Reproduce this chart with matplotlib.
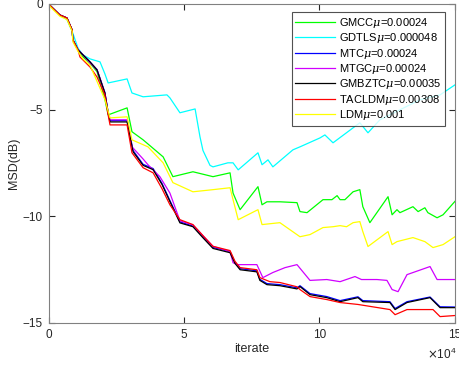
import numpy as np
import matplotlib
matplotlib.use('Agg')
import matplotlib.pyplot as plt

plt.rcParams['font.family'] = ['Liberation Sans', 'DejaVu Sans']
plt.rcParams['mathtext.fontset'] = 'custom'
plt.rcParams['mathtext.it'] = 'DejaVu Serif:italic'

# Iteration (x 10^4) / MSD (dB) Werte
x_gmcc = [0, 0.06, 0.42, 0.68, 0.87, 0.9, 1.09, 1.27, 1.53, 1.79, 2.08, 2.2, 2.9, 3.08, 3.49,
          4.23, 4.59, 5.33, 6.07, 6.7, 6.81, 7.07, 7.73, 7.88, 8.06, 8.54, 9.17, 9.28, 9.54,
          10.13, 10.46, 10.65, 10.76, 10.94, 11.24, 11.49, 11.6, 11.86, 12.53, 12.68, 12.86,
          12.97, 13.45, 13.64, 13.89, 14.0, 14.34, 14.56, 15]
y_gmcc = [0, -0.1, -0.54, -0.68, -1.24, -1.71, -2.18, -2.5, -2.8, -3.2, -4.5, -5.23, -4.9, -6.02,
          -6.4, -7.2, -8.13, -7.9, -8.13, -7.95, -8.9, -9.68, -8.6, -9.45, -9.31, -9.31, -9.35,
          -9.77, -9.82, -9.21, -9.21, -9.02, -9.21, -9.21, -8.84, -8.74, -9.54, -10.29, -9.07,
          -9.92, -9.68, -9.82, -9.54, -9.77, -9.59, -9.82, -10.06, -9.92, -9.29]

x_gdtls = [0, 0.06, 0.42, 0.68, 0.87, 1.09, 1.27, 1.53, 1.9, 2.08, 2.2, 2.9, 3.08, 3.49, 4.37,
           4.48, 4.85, 5.41, 5.59, 5.7, 5.96, 6.07, 6.62, 6.81, 7.0, 7.73, 7.88, 8.1, 8.28, 9.02,
           9.28, 10.02, 10.2, 10.5, 11.49, 11.79, 12.23, 12.97, 13.71, 14.45, 15]
y_gdtls = [0, -0.1, -0.54, -0.75, -1.3, -2.1, -2.41, -2.6, -2.74, -3.3, -3.73, -3.54, -4.2, -4.38,
           -4.29, -4.43, -5.13, -4.95, -6.26, -6.9, -7.6, -7.67, -7.48, -7.48, -7.81, -7.01, -7.57,
           -7.34, -7.67, -6.87, -6.73, -6.31, -6.17, -6.54, -5.6, -6.07, -5.46, -4.99, -4.52,
           -4.29, -3.82]

x_mtc = [0, 0.06, 0.42, 0.68, 0.87, 0.9, 1.09, 1.27, 1.53, 1.79, 2.08, 2.2, 2.27, 2.9, 3.12,
         3.49, 3.86, 4.19, 4.48, 4.85, 5.33, 5.7, 6.07, 6.7, 6.88, 7.07, 7.69, 7.8, 8.06, 8.54,
         9.17, 9.28, 9.65, 10.27, 10.76, 11.42, 11.6, 12.6, 12.79, 13.23, 14.08, 14.45, 15]
y_mtc = [0, -0.1, -0.54, -0.68, -1.24, -1.71, -2.18, -2.41, -2.74, -3.1, -4.18, -5.1, -5.5, -5.5,
         -6.9, -7.55, -7.75, -8.45, -9.25, -10.25, -10.45, -10.95, -11.45, -11.65, -12.15, -12.45,
         -12.55, -12.95, -13.15, -13.2, -13.35, -13.25, -13.62, -13.76, -13.95, -13.77, -13.95,
         -14.0, -14.32, -14.0, -13.78, -14.24, -14.25]

x_mtgc = [0, 0.06, 0.42, 0.68, 0.87, 0.9, 1.09, 1.27, 1.53, 1.79, 2.08, 2.2, 2.27, 2.9, 3.08,
          3.49, 3.67, 4.11, 4.48, 4.85, 5.33, 5.7, 6.07, 6.7, 6.81, 6.96, 7.69, 7.91, 8.28, 8.73,
          9.17, 9.65, 10.27, 10.76, 11.31, 11.55, 12.12, 12.49, 12.68, 12.9, 13.23, 14.08,
          14.34, 15]
y_mtgc = [0, -0.1, -0.54, -0.68, -1.24, -1.71, -2.18, -2.41, -2.79, -3.12, -4.2, -5.13, -5.46,
          -5.46, -6.73, -7.3, -7.57, -8.13, -8.9, -10.2, -10.4, -10.9, -11.4, -11.65, -12.17,
          -12.26, -12.26, -12.87, -12.63, -12.4, -12.26, -13.0, -12.96, -13.06, -12.82, -12.96,
          -12.96, -13.0, -13.43, -13.53, -12.73, -12.35, -12.96, -12.96]

x_gmbztc = [0, 0.06, 0.42, 0.68, 0.87, 0.9, 1.09, 1.27, 1.53, 1.79, 2.08, 2.2, 2.27, 2.9, 3.12,
            3.49, 3.86, 4.19, 4.48, 4.85, 5.33, 5.7, 6.07, 6.7, 6.88, 7.07, 7.69, 7.8, 8.06, 8.54,
            9.17, 9.28, 9.65, 10.27, 10.76, 11.42, 11.6, 12.6, 12.79, 13.23, 14.08, 14.45, 15]
y_gmbztc = [0, -0.1, -0.54, -0.68, -1.24, -1.71, -2.18, -2.41, -2.74, -3.12, -4.2, -5.13, -5.56,
            -5.56, -6.96, -7.6, -7.8, -8.5, -9.3, -10.3, -10.48, -11.0, -11.5, -11.7, -12.2, -12.5,
            -12.6, -13.0, -13.2, -13.25, -13.4, -13.29, -13.67, -13.81, -14.0, -13.81, -14.0,
            -14.04, -14.37, -14.04, -13.81, -14.28, -14.28]

x_tacldm = [0, 0.06, 0.42, 0.68, 0.87, 0.9, 1.09, 1.16, 1.53, 1.79, 2.08, 2.2, 2.27, 2.9, 3.08,
            3.49, 3.86, 4.19, 4.48, 4.85, 5.33, 5.7, 6.07, 6.7, 6.88, 7.07, 7.69, 7.8, 8.17, 8.54,
            9.17, 9.28, 9.65, 10.27, 10.76, 11.42, 12.6, 12.79, 13.23, 14.19, 14.45, 15]
y_tacldm = [0, -0.1, -0.54, -0.68, -1.24, -1.71, -2.18, -2.51, -2.98, -3.45, -4.3, -5.23, -5.7,
            -5.7, -7.01, -7.71, -7.95, -8.7, -9.45, -10.15, -10.38, -10.9, -11.4, -11.6, -12.1,
            -12.4, -12.5, -12.87, -13.06, -13.1, -13.3, -13.43, -13.76, -13.9, -14.04, -14.13,
            -14.37, -14.61, -14.37, -14.37, -14.7, -14.65]

x_ldm = [0, 0.06, 0.42, 0.68, 0.87, 0.9, 1.09, 1.27, 1.53, 2.08, 2.27, 2.9, 3.08, 3.67, 4.23,
         4.59, 5.33, 6.07, 6.7, 6.81, 7.0, 7.73, 7.88, 8.54, 9.28, 9.65, 10.13, 10.5, 10.76,
         11.0, 11.24, 11.49, 11.6, 11.79, 12.53, 12.68, 12.86, 13.45, 13.89, 14.19, 14.56, 15]
y_ldm = [0, -0.15, -0.6, -0.75, -1.3, -1.8, -2.25, -2.6, -2.9, -4.5, -5.37, -5.32, -6.4, -6.73,
         -7.48, -8.41, -8.84, -8.74, -8.65, -9.21, -10.15, -9.68, -10.38, -10.29, -10.95, -10.85,
         -10.52, -10.48, -10.43, -10.48, -10.29, -10.24, -10.71, -11.41, -10.71, -11.32, -11.18,
         -10.99, -11.18, -11.46, -11.32, -10.95]

# Plot vorbereiten
fig = plt.figure(figsize=(4.59, 3.69), dpi=100)
ax = fig.add_axes([0.1057, 0.1247, 0.8855, 0.8658])

lw = 0.9
ax.plot(x_gmcc, y_gmcc, color='#00ff00', lw=lw, label=r'GMCC$\mu$=0.00024')
ax.plot(x_gdtls, y_gdtls, color='#00ffff', lw=lw, label=r'GDTLS$\mu$=0.000048')
ax.plot(x_mtc, y_mtc, color='#0000ff', lw=lw, label=r'MTC$\mu$=0.00024')
ax.plot(x_mtgc, y_mtgc, color='#d000ff', lw=lw, label=r'MTGC$\mu$=0.00024')
ax.plot(x_gmbztc, y_gmbztc, color='black', lw=lw, label=r'GMBZTC$\mu$=0.00035')
ax.plot(x_tacldm, y_tacldm, color='#ff0000', lw=lw, label=r'TACLDM$\mu$=0.00308')
ax.plot(x_ldm, y_ldm, color='#ffff00', lw=lw, label=r'LDM$\mu$=0.001')

ax.set_xlim(0, 15)
ax.set_ylim(-15, 0)
ax.set_xticks([0, 5, 10, 15])
ax.set_yticks([-15, -10, -5, 0])
ax.tick_params(direction='in', top=True, right=True, length=4, labelsize=8.5,
               colors='#262626', pad=4)
for s in ax.spines.values():
    s.set_color('#808080')
    s.set_linewidth(0.8)

ax.set_xlabel('iterate', fontsize=9, color='#262626', labelpad=2)
ax.set_ylabel('MSD(dB)', fontsize=9, color='#262626', labelpad=2)
fig.text(0.995, 0.02, r'$\times\mathregular{10^4}$', ha='right', va='bottom', fontsize=8.5,
         color='#262626')

leg = ax.legend(loc='upper right', bbox_to_anchor=(445 / 459, 1 - 12 / 369),
                bbox_transform=fig.transFigure, fontsize=8, frameon=True, fancybox=False,
                handlelength=3.6, handletextpad=0.3, labelspacing=0.12, borderpad=0.35,
                borderaxespad=0)
leg.get_frame().set_edgecolor('#262626')
leg.get_frame().set_linewidth(0.8)

fig.savefig('out.png', dpi=100)
